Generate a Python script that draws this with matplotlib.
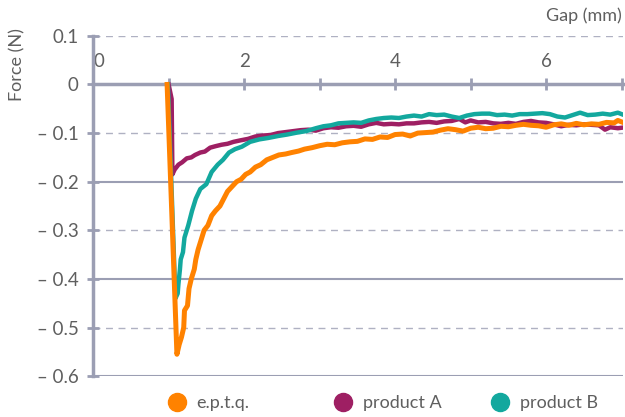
import matplotlib
matplotlib.use("Agg")
import matplotlib.pyplot as plt
from matplotlib.lines import Line2D

plt.rcParams['font.family'] = ['Lato', 'DejaVu Sans']

series_names = ["e.p.t.q.", "product A", "product B"]
series_colors = ["#ff8200", "#9e1f63", "#13a89e"]

eptq_x = [0.98, 1.11, 1.14, 1.17, 1.20, 1.21, 1.25, 1.27, 1.30, 1.34, 1.36, 1.39, 1.43,
          1.47, 1.52, 1.57, 1.62, 1.68, 1.73, 1.78, 1.84, 1.90, 1.96, 2.02, 2.08, 2.15,
          2.22, 2.30, 2.38, 2.46, 2.55, 2.63, 2.72, 2.80, 2.90, 3.00, 3.10, 3.20, 3.30,
          3.40, 3.50, 3.60, 3.70, 3.80, 3.90, 4.00, 4.10, 4.20, 4.30, 4.40, 4.50, 4.60,
          4.70, 4.80, 4.90, 5.00, 5.10, 5.20, 5.30, 5.40, 5.50, 5.60, 5.70, 5.80, 5.90,
          6.00, 6.10, 6.20, 6.30, 6.40, 6.50, 6.60, 6.70, 6.80, 6.90, 6.95, 7.00]
eptq_y = [0, -0.555, -0.535, -0.52, -0.50, -0.465, -0.455, -0.42, -0.40, -0.38, -0.36,
          -0.34, -0.32, -0.30, -0.29, -0.27, -0.26, -0.25, -0.235, -0.22, -0.21, -0.20,
          -0.195, -0.185, -0.18, -0.17, -0.165, -0.155, -0.15, -0.145, -0.143, -0.14,
          -0.137, -0.133, -0.13, -0.126, -0.123, -0.124, -0.12, -0.118, -0.117, -0.112,
          -0.113, -0.108, -0.109, -0.103, -0.102, -0.106, -0.100, -0.099, -0.098, -0.094,
          -0.091, -0.093, -0.096, -0.090, -0.088, -0.091, -0.090, -0.086, -0.087, -0.084,
          -0.082, -0.084, -0.085, -0.088, -0.083, -0.081, -0.084, -0.080, -0.083, -0.081,
          -0.082, -0.078, -0.079, -0.074, -0.077]

prod_a_x = [1.00, 1.04, 1.05, 1.08, 1.13, 1.18, 1.24, 1.30, 1.35, 1.42, 1.48, 1.55, 1.62,
            1.70, 1.78, 1.86, 1.95, 2.05, 2.15, 2.25, 2.35, 2.45, 2.55, 2.65, 2.75, 2.85,
            2.95, 3.05, 3.15, 3.25, 3.35, 3.45, 3.55, 3.65, 3.75, 3.85, 3.95, 4.05, 4.15,
            4.25, 4.35, 4.45, 4.55, 4.65, 4.75, 4.85, 4.93, 5.00, 5.10, 5.20, 5.30, 5.40,
            5.50, 5.60, 5.70, 5.80, 5.90, 6.00, 6.10, 6.20, 6.30, 6.40, 6.50, 6.60, 6.70,
            6.78, 6.85, 6.95, 7.00]
prod_a_y = [0.0, -0.03, -0.185, -0.175, -0.165, -0.16, -0.152, -0.150, -0.145, -0.140,
            -0.138, -0.130, -0.127, -0.124, -0.122, -0.118, -0.115, -0.112, -0.107, -0.105,
            -0.104, -0.100, -0.098, -0.096, -0.094, -0.093, -0.095, -0.090, -0.088, -0.089,
            -0.086, -0.085, -0.087, -0.082, -0.079, -0.082, -0.081, -0.082, -0.080, -0.080,
            -0.078, -0.077, -0.079, -0.076, -0.075, -0.071, -0.078, -0.074, -0.078, -0.077,
            -0.080, -0.081, -0.079, -0.081, -0.077, -0.075, -0.078, -0.079, -0.082, -0.086,
            -0.083, -0.084, -0.082, -0.083, -0.084, -0.093, -0.088, -0.090, -0.089]

prod_b_x = [0.99, 1.09, 1.12, 1.13, 1.15, 1.16, 1.19, 1.21, 1.26, 1.31, 1.36, 1.42, 1.50,
            1.57, 1.65, 1.72, 1.80, 1.88, 1.97, 2.08, 2.20, 2.32, 2.45, 2.57, 2.70, 2.82,
            2.95, 3.05, 3.15, 3.25, 3.35, 3.45, 3.55, 3.65, 3.75, 3.85, 3.95, 4.05, 4.15,
            4.25, 4.35, 4.45, 4.55, 4.65, 4.75, 4.85, 4.95, 5.05, 5.15, 5.25, 5.35, 5.45,
            5.55, 5.65, 5.75, 5.85, 5.95, 6.05, 6.15, 6.25, 6.35, 6.45, 6.55, 6.65, 6.75,
            6.85, 6.95, 7.00]
prod_b_y = [0.0, -0.44, -0.43, -0.41, -0.38, -0.36, -0.345, -0.315, -0.29, -0.26, -0.235,
            -0.215, -0.205, -0.18, -0.165, -0.155, -0.140, -0.133, -0.128, -0.118, -0.113,
            -0.110, -0.106, -0.103, -0.099, -0.096, -0.090, -0.086, -0.084, -0.080, -0.079,
            -0.078, -0.079, -0.074, -0.071, -0.069, -0.068, -0.069, -0.066, -0.064, -0.066,
            -0.061, -0.063, -0.062, -0.066, -0.069, -0.064, -0.061, -0.060, -0.060, -0.063,
            -0.062, -0.064, -0.061, -0.061, -0.060, -0.059, -0.061, -0.066, -0.068, -0.063,
            -0.058, -0.063, -0.062, -0.060, -0.062, -0.058, -0.061]

y_ticks = [0.1, 0, -0.1, -0.2, -0.3, -0.4, -0.5, -0.6]
y_tick_labels = ["0.1", "0", "\u2013 0.1", "\u2013 0.2", "\u2013 0.3", "\u2013 0.4", "\u2013 0.5", "\u2013 0.6"]
x_ticks = [0, 1, 2, 3, 4, 5, 6, 7]
x_tick_labels = ["0", "", "2", "", "4", "", "6", ""]

axis_col = "#9b9eb3"
text_col = "#5f5f5f"

fig = plt.figure(figsize=(6.25, 4.17), dpi=100)
ax = fig.add_axes([0.149, 0.098, 0.848, 0.816])

# grid: solid at even tenths, dashed at odd tenths
for y in y_ticks:
    if y == 0:
        continue
    if round(y * 10) % 2 == 0:
        ax.axhline(y, color=axis_col, lw=1.5, zorder=1)
    else:
        ax.axhline(y, color=axis_col, lw=1.0, ls=(0, (5, 4)), alpha=0.8, zorder=1)

ax.plot(prod_a_x, prod_a_y, color=series_colors[1], lw=3.2, zorder=3)
ax.plot(prod_b_x, prod_b_y, color=series_colors[2], lw=3.2, zorder=4)
ax.plot(eptq_x, eptq_y, color=series_colors[0], lw=3.6, zorder=5)

ax.set_xlim(0, 7.02)
ax.set_ylim(-0.6, 0.1)

for s in ["right", "bottom"]:
    ax.spines[s].set_visible(False)
ax.spines["top"].set_position(("data", 0))
ax.spines["top"].set_color(axis_col)
ax.spines["top"].set_linewidth(2.5)
ax.spines["left"].set_color(axis_col)
ax.spines["left"].set_linewidth(2.5)
ax.spines["left"].set_zorder(2)

ax.xaxis.set_ticks_position("top")
ax.set_xticks(x_ticks)
ax.set_xticklabels(x_tick_labels)
ax.tick_params(axis="x", direction="inout", length=9, width=2, color=axis_col,
               labelsize=13.5, labelcolor=text_col, pad=6)
ax.set_yticks(y_ticks)
ax.set_yticklabels(y_tick_labels)
ax.tick_params(axis="y", direction="inout", length=9, width=2, color=axis_col,
               labelsize=13.5, labelcolor=text_col, pad=6)
for lab in ax.get_xticklabels()[:1]:
    lab.set_horizontalalignment("left")

fig.text(0.028, 0.933, "Force (N)", rotation=90, ha="center", va="top",
         fontsize=13, color=text_col)
fig.text(0.995, 0.962, "Gap (mm)", ha="right", va="center",
         fontsize=13, color=text_col)

# legend items evenly spaced, one small legend each
legend_x = [0.268, 0.534, 0.785]
for name, col, lx in zip(series_names, series_colors, legend_x):
    h = Line2D([], [], marker="o", ls="none", markersize=13, color=col)
    leg = fig.legend([h], [name], loc="center left", bbox_to_anchor=(lx, 0.034),
                     frameon=False, fontsize=13, labelcolor=text_col,
                     handletextpad=0.6, handlelength=1.0, borderpad=0, borderaxespad=0)

fig.savefig("out.png", dpi=100)
